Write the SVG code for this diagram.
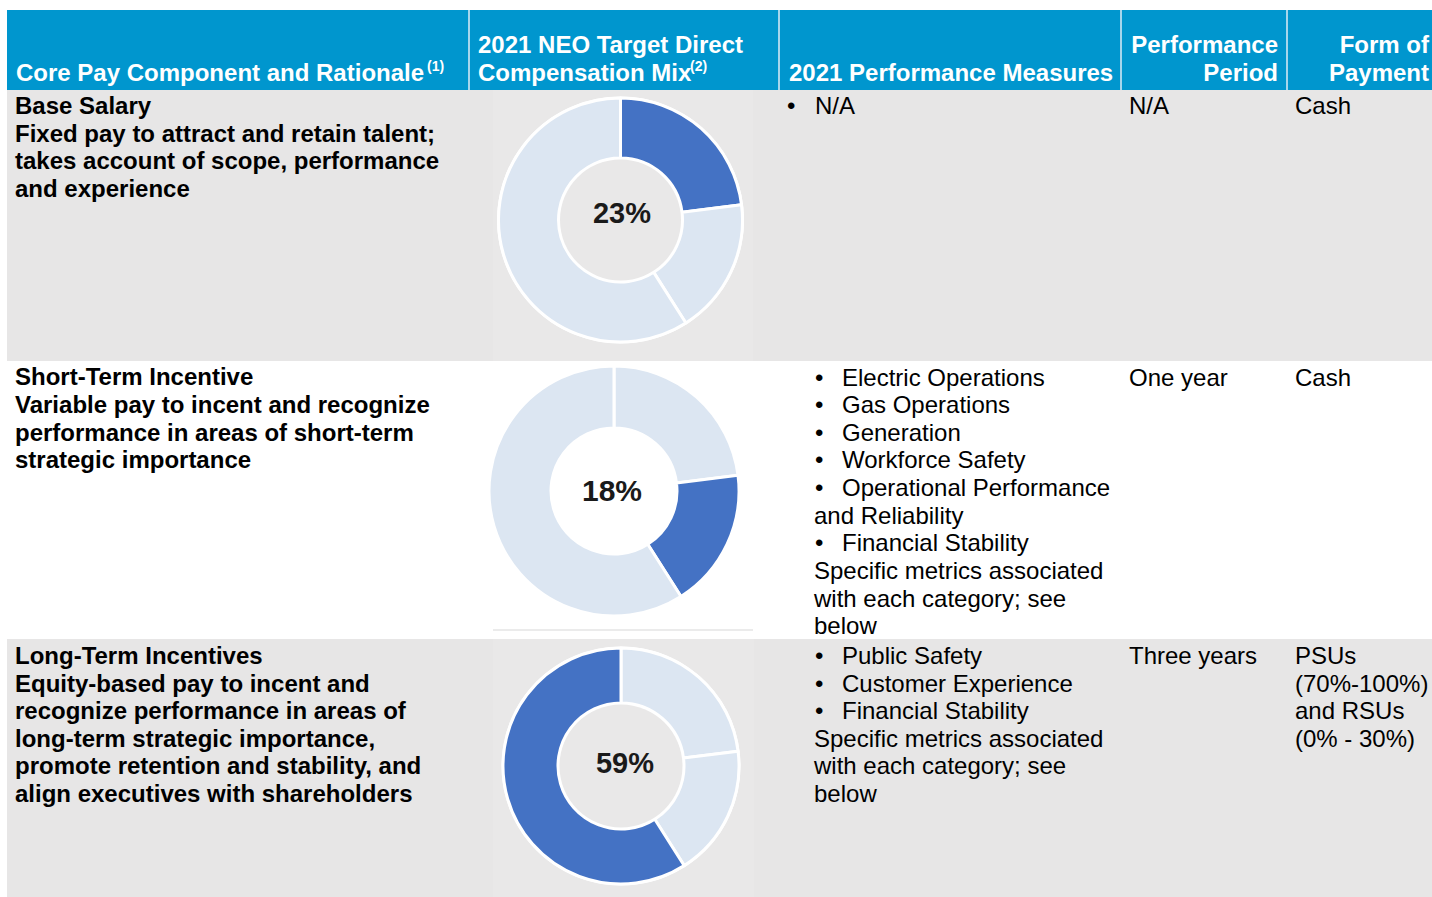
<svg xmlns="http://www.w3.org/2000/svg" width="1432" height="897" viewBox="0 0 1432 897">
<style>
.h{font-family:"Liberation Sans",Arial,sans-serif;font-weight:bold;font-size:24px;fill:#fff}
.sup{font-family:"Liberation Sans",Arial,sans-serif;font-weight:bold;font-size:14px;fill:#fff}
.b{font-family:"Liberation Sans",Arial,sans-serif;font-weight:bold;font-size:24px;fill:#000}
.t{font-family:"Liberation Sans",Arial,sans-serif;font-size:24px;fill:#000}
.pct{font-family:"Liberation Sans",Arial,sans-serif;font-weight:bold;font-size:29px;fill:#1a1a1a;text-anchor:middle}
.dk{fill:#4472C4;stroke:#fff;stroke-width:3;stroke-linejoin:round}
.lt{fill:#DCE6F2;stroke:#fff;stroke-width:3;stroke-linejoin:round}
.sep{stroke:#A6D6EC;stroke-width:2}
</style>
<rect x="0" y="0" width="1432" height="897" fill="#fff"/>
<g id="header">
<rect x="7" y="10" width="1425" height="80" fill="#0096CE"/>
<line class="sep" x1="469" y1="10" x2="469" y2="90"/>
<line class="sep" x1="779" y1="10" x2="779" y2="90"/>
<line class="sep" x1="1121" y1="10" x2="1121" y2="90"/>
<line class="sep" x1="1287" y1="10" x2="1287" y2="90"/>
<text class="h" x="16" y="81">Core Pay Component and Rationale</text>
<text class="sup" x="427" y="71">(1)</text>
<text class="h" x="478" y="53">2021 NEO Target Direct</text>
<text class="h" x="478" y="81">Compensation Mix</text>
<text class="sup" x="690" y="71">(2)</text>
<text class="h" x="789" y="81">2021 Performance Measures</text>
<text class="h" x="1278" y="53" text-anchor="end">Performance</text>
<text class="h" x="1278" y="81" text-anchor="end">Period</text>
<text class="h" x="1429" y="53" text-anchor="end">Form of</text>
<text class="h" x="1429" y="81" text-anchor="end">Payment</text>
</g>
<g id="row-base-salary">
<rect x="7" y="90" width="1425" height="271" fill="#E7E6E6"/>
<rect x="493" y="90" width="260" height="271" fill="#E9E8E8"/>
<text class="b" x="15" y="114">Base Salary</text>
<text class="b" x="15" y="142">Fixed pay to attract and retain talent;</text>
<text class="b" x="15" y="169">takes account of scope, performance</text>
<text class="b" x="15" y="197">and experience</text>
<g id="donut-23">
<circle cx="620.5" cy="220" r="123.5" fill="#fff"/>
<path class="dk" d="M620.5 98 A122 122 0 0 1 741.54 204.71 L682.01 212.23 A62 62 0 0 0 620.5 158 Z"/>
<path class="lt" d="M741.54 204.71 A122 122 0 0 1 685.87 323.01 L653.72 272.35 A62 62 0 0 0 682.01 212.23 Z"/>
<path class="lt" d="M685.87 323.01 A122 122 0 1 1 620.5 98 L620.5 158 A62 62 0 1 0 653.72 272.35 Z"/>
<circle cx="620.5" cy="220" r="60.5" fill="#E9E8E8"/>
<text class="pct" x="622" y="223">23%</text>
</g>
<text class="t" x="787" y="114">•</text>
<text class="t" x="815" y="114">N/A</text>
<text class="t" x="1129" y="114">N/A</text>
<text class="t" x="1295" y="114">Cash</text>
</g>
<g id="row-short-term">
<line x1="493" y1="630" x2="753" y2="630" stroke="#E4E4E4" stroke-width="1.5"/>
<text class="b" x="15" y="385">Short-Term Incentive</text>
<text class="b" x="15" y="413">Variable pay to incent and recognize</text>
<text class="b" x="15" y="441">performance in areas of short-term</text>
<text class="b" x="15" y="468">strategic importance</text>
<g id="donut-18">
<path class="lt" d="M614 366 A125 125 0 0 1 738.01 475.33 L676.5 483.1 A63 63 0 0 0 614 428 Z"/>
<path class="dk" d="M738.01 475.33 A125 125 0 0 1 680.98 596.54 L647.76 544.19 A63 63 0 0 0 676.5 483.1 Z"/>
<path class="lt" d="M680.98 596.54 A125 125 0 1 1 614 366 L614 428 A63 63 0 1 0 647.76 544.19 Z"/>
<text class="pct" x="612" y="501" style="font-size:30px">18%</text>
</g>
<text class="t" x="815" y="386">•</text>
<text class="t" x="842" y="386">Electric Operations</text>
<text class="t" x="815" y="413">•</text>
<text class="t" x="842" y="413">Gas Operations</text>
<text class="t" x="815" y="441">•</text>
<text class="t" x="842" y="441">Generation</text>
<text class="t" x="815" y="468">•</text>
<text class="t" x="842" y="468">Workforce Safety</text>
<text class="t" x="815" y="496">•</text>
<text class="t" x="842" y="496">Operational Performance</text>
<text class="t" x="814" y="524">and Reliability</text>
<text class="t" x="815" y="551">•</text>
<text class="t" x="842" y="551">Financial Stability</text>
<text class="t" x="814" y="579">Specific metrics associated</text>
<text class="t" x="814" y="607">with each category; see</text>
<text class="t" x="814" y="634">below</text>
<text class="t" x="1129" y="386">One year</text>
<text class="t" x="1295" y="386">Cash</text>
</g>
<g id="row-long-term">
<rect x="7" y="639" width="1425" height="258" fill="#E7E6E6"/>
<rect x="493" y="639" width="261" height="258" fill="#E9E8E8"/>
<text class="b" x="15" y="664">Long-Term Incentives</text>
<text class="b" x="15" y="692">Equity-based pay to incent and</text>
<text class="b" x="15" y="719">recognize performance in areas of</text>
<text class="b" x="15" y="747">long-term strategic importance,</text>
<text class="b" x="15" y="774">promote retention and stability, and</text>
<text class="b" x="15" y="802">align executives with shareholders</text>
<g id="donut-59">
<circle cx="621" cy="766" r="119.5" fill="#fff"/>
<path class="lt" d="M621 648 A118 118 0 0 1 738.07 751.21 L683.5 758.1 A63 63 0 0 0 621 703 Z"/>
<path class="lt" d="M738.07 751.21 A118 118 0 0 1 684.23 865.63 L654.76 819.19 A63 63 0 0 0 683.5 758.1 Z"/>
<path class="dk" d="M684.23 865.63 A118 118 0 1 1 621 648 L621 703 A63 63 0 1 0 654.76 819.19 Z"/>
<circle cx="621" cy="766" r="61.5" fill="#E9E8E8"/>
<text class="pct" x="625" y="773">59%</text>
</g>
<text class="t" x="815" y="664">•</text>
<text class="t" x="842" y="664">Public Safety</text>
<text class="t" x="815" y="692">•</text>
<text class="t" x="842" y="692">Customer Experience</text>
<text class="t" x="815" y="719">•</text>
<text class="t" x="842" y="719">Financial Stability</text>
<text class="t" x="814" y="747">Specific metrics associated</text>
<text class="t" x="814" y="774">with each category; see</text>
<text class="t" x="814" y="802">below</text>
<text class="t" x="1129" y="664">Three years</text>
<text class="t" x="1295" y="664">PSUs</text>
<text class="t" x="1295" y="692">(70%-100%)</text>
<text class="t" x="1295" y="719">and RSUs</text>
<text class="t" x="1295" y="747">(0% - 30%)</text>
</g>
</svg>
